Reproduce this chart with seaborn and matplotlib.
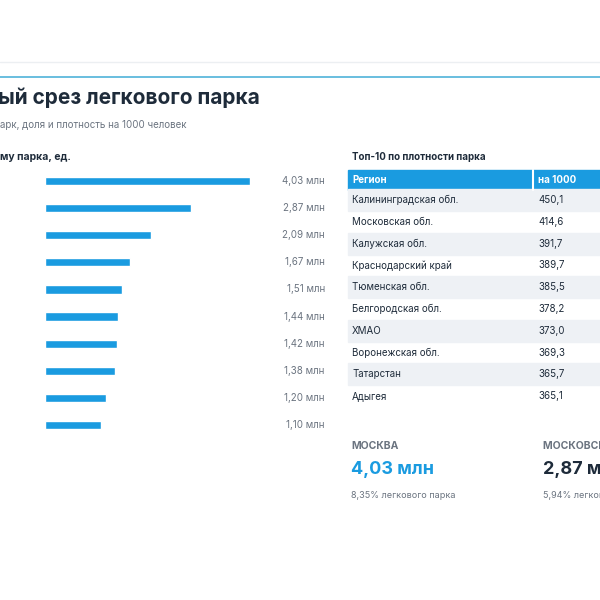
import matplotlib
matplotlib.use("Agg")
import matplotlib.pyplot as plt
import seaborn as sns
import pandas as pd
from matplotlib.patches import Rectangle

sns.set_theme(style="white")
plt.rcParams['font.family'] = ['Inter', 'DejaVu Sans']

bar_values = [4.03, 2.87, 2.09, 1.67, 1.51, 1.44, 1.42, 1.38, 1.20, 1.10]
bar_labels = ["4,03 млн", "2,87 млн", "2,09 млн", "1,67 млн", "1,51 млн",
              "1,44 млн", "1,42 млн", "1,38 млн", "1,20 млн", "1,10 млн"]
regions = ["Калининградская обл.", "Московская обл.", "Калужская обл.",
           "Краснодарский край", "Тюменская обл.", "Белгородская обл.",
           "ХМАО", "Воронежская обл.", "Татарстан", "Адыгея"]
density = ["450,1", "414,6", "391,7", "389,7", "385,5", "378,2",
           "373,0", "369,3", "365,7", "365,1"]

BLUE = "#1a9be0"
DARK = "#1e2b3a"
GREY = "#6b7480"

fig = plt.figure(figsize=(6, 6), dpi=100)
fig.patch.set_facecolor("white")

def fx(px): return px / 600
def fy(py): return 1 - py / 600

# top lines
fig.add_artist(plt.Line2D([0, 1], [fy(62), fy(62)], color="#eceff2", lw=1))
fig.add_artist(plt.Line2D([0, 1], [fy(77), fy(77)], color="#4fb3d9", lw=1.2))

fig.text(fx(-2), fy(98), "ый срез легкового парка", fontsize=15, weight="bold",
         color=DARK, va="center")
fig.text(fx(0), fy(125), "арк, доля и плотность на 1000 человек", fontsize=7,
         color=GREY, va="center")
fig.text(fx(0), fy(157), "му парка, ед.", fontsize=7.5, weight="bold",
         color=DARK, va="center")

# bar chart
ax = fig.add_axes([fx(45), fy(438.5), 205 / 600, 271 / 600])
df = pd.DataFrame({"idx": list(range(len(bar_values))), "v": bar_values})
sns.barplot(data=df, x="v", y="idx", orient="h", color=BLUE, width=0.3,
            saturation=1, ax=ax)
ax.set_xlim(0, 4.03)
ax.set_ylim(9.5, -0.5)
for i, lab in enumerate(bar_labels):
    ax.text(5.5, i, lab, ha="right", va="center", fontsize=7, color=GREY,
            clip_on=False)
ax.axis("off")

# table
fig.text(fx(352), fy(157), "Топ-10 по плотности парка", fontsize=7,
         weight="bold", color=DARK, va="center")
fig.add_artist(Rectangle((fx(348), fy(190)), fx(252), 20 / 600,
                         transform=fig.transFigure, color=BLUE))
fig.add_artist(plt.Line2D([fx(533), fx(533)], [fy(190), fy(170)],
                          color="white", lw=1.5))
fig.text(fx(352), fy(180), "Регион", fontsize=7, weight="bold", color="white", va="center")
fig.text(fx(538), fy(180), "на 1000", fontsize=7, weight="bold", color="white", va="center")
for i, (r, d) in enumerate(zip(regions, density)):
    yc = 200 + i * 21.8
    if i % 2 == 0:
        fig.add_artist(Rectangle((fx(348), fy(yc + 10.9)), fx(252), 21.8 / 600,
                                 transform=fig.transFigure, color="#eef1f5"))
    fig.text(fx(352), fy(yc), r, fontsize=7, color=DARK, va="center")
    fig.text(fx(538), fy(yc), d, fontsize=7, color=DARK, va="center")

# cards
fig.text(fx(351), fy(446), "МОСКВА", fontsize=7.5, weight="bold", color=GREY, va="center")
fig.text(fx(351), fy(470), "4,03 млн", fontsize=13, weight="bold", color=BLUE, va="center")
fig.text(fx(351), fy(495), "8,35% легкового парка", fontsize=6.5, color=GREY, va="center")
fig.text(fx(543), fy(446), "МОСКОВСКАЯ ОБЛ.", fontsize=7.5, weight="bold", color=GREY, va="center")
fig.text(fx(543), fy(470), "2,87 млн", fontsize=13, weight="bold", color=DARK, va="center")
fig.text(fx(543), fy(495), "5,94% легкового парка", fontsize=6.5, color=GREY, va="center")

fig.savefig("out.png", dpi=100, facecolor="white")
